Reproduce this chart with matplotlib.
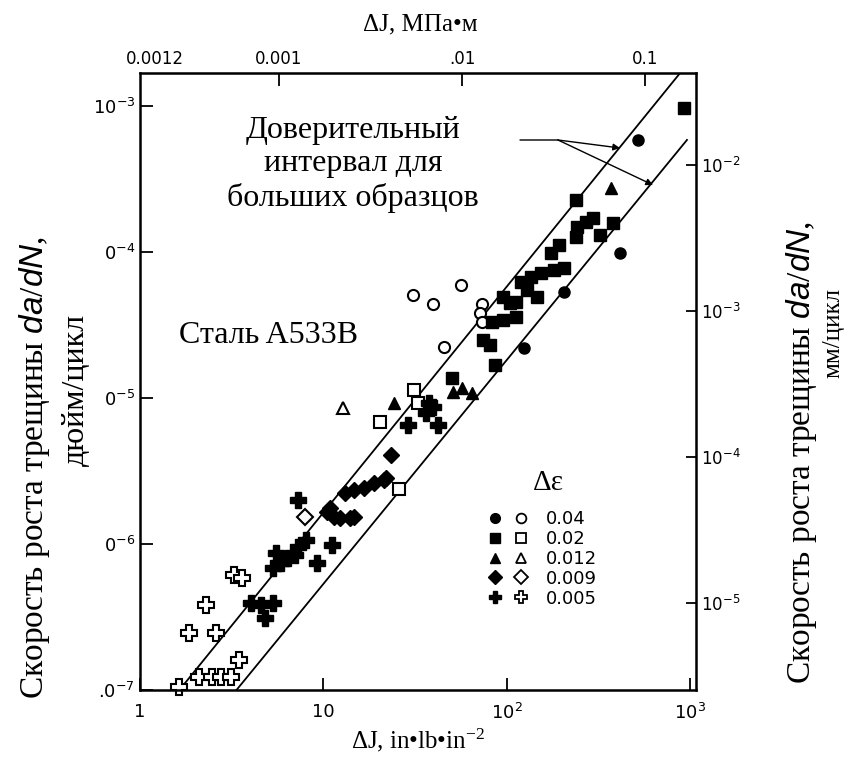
import matplotlib
matplotlib.use("Agg")
import matplotlib.pyplot as plt
from matplotlib.legend_handler import HandlerTuple
from matplotlib.lines import Line2D
from matplotlib.ticker import NullFormatter

plt.rcParams['font.family'] = ['Liberation Serif', 'DejaVu Serif']
plt.rcParams['mathtext.fontset'] = 'custom'
plt.rcParams['mathtext.it'] = 'Liberation Sans:italic'
plt.rcParams['mathtext.rm'] = 'Liberation Serif'
plt.rcParams['mathtext.default'] = 'regular'

# data: dJ (in-lb/in^2), da/dN (in/cycle)
filled_circle_x = [519, 415, 205, 125]
filled_circle_y = [5.85e-4, 9.8e-5, 5.3e-5, 2.2e-5]
open_circle_x = [30.9, 39.5, 56.6, 73, 71.6, 73, 45.3]
open_circle_y = [5.1e-5, 4.4e-5, 5.9e-5, 4.4e-5, 3.8e-5, 3.3e-5, 2.23e-5]
filled_square_x = [929, 238, 297, 272, 241, 238, 324, 381, 175, 193, 120, 136, 154, 181, 205,
                   130, 147, 95, 104, 113, 113, 95, 83, 74, 81, 86, 50.6]
filled_square_y = [9.7e-4, 2.27e-4, 1.71e-4, 1.6e-4, 1.48e-4, 1.27e-4, 1.31e-4, 1.58e-4, 9.8e-5,
                   1.12e-4, 6.2e-5, 6.7e-5, 7.2e-5, 7.5e-5, 7.8e-5, 5.5e-5, 4.9e-5, 4.9e-5,
                   4.5e-5, 4.55e-5, 3.6e-5, 3.4e-5, 3.3e-5, 2.5e-5, 2.3e-5, 1.68e-5, 1.37e-5]
open_square_x = [31.2, 32.8, 20.3, 25.9]
open_square_y = [1.13e-5, 9.2e-6, 6.9e-6, 2.38e-6]
filled_triangle_x = [372, 57, 65, 51, 24.4]
filled_triangle_y = [2.74e-4, 1.17e-5, 1.08e-5, 1.1e-5, 9.2e-6]
open_triangle_x = [12.8]
open_triangle_y = [8.5e-6]
filled_diamond_x = [23.5, 13.1, 14.7, 16.6, 18.8, 21.3, 22.1, 10.5, 11.5, 12.3, 14.0, 14.7, 10.9]
filled_diamond_y = [4.07e-6, 2.23e-6, 2.34e-6, 2.42e-6, 2.62e-6, 2.74e-6, 2.83e-6, 1.66e-6,
                    1.53e-6, 1.51e-6, 1.51e-6, 1.53e-6, 1.77e-6]
open_diamond_x = [7.9]
open_diamond_y = [1.53e-6]
filled_plus_x = [37.6, 36.3, 42, 29, 39.5, 7.25, 8.0, 7.25, 5.52, 6.4, 5.87, 5.32, 6.98, 9.29,
                 11.2, 4.05, 4.59, 5.32, 4.82]
filled_plus_y = [9.2e-6, 7.9e-6, 6.5e-6, 6.5e-6, 8.7e-6, 2.0e-6, 1.06e-6, 9.5e-7, 8.7e-7, 8.0e-7,
                 7.4e-7, 6.85e-7, 8.4e-7, 7.4e-7, 9.8e-7, 3.95e-7, 3.82e-7, 3.95e-7, 3.11e-7]
open_plus_x = [3.24, 3.58, 2.29, 1.86, 2.59, 3.45, 2.10, 2.47, 2.76, 3.12, 1.64]
open_plus_y = [6.1e-7, 5.85e-7, 3.82e-7, 2.45e-7, 2.45e-7, 1.6e-7, 1.23e-7, 1.23e-7, 1.23e-7,
               1.23e-7, 1.05e-7]

# scatter band for large specimens
upper_x = [1.64, 884.0]
upper_y = [1.0e-7, 1.68e-3]
lower_x = [3.36, 964.0]
lower_y = [1.0e-7, 5.85e-4]

legend_labels = ['0.04', '0.02', '0.012', '0.009', '0.005']

fig = plt.figure(figsize=(8.45, 7.6), dpi=100)
ax = fig.add_axes([0.1657, 0.0921, 0.658, 0.8118])
ax.set_xscale('log')
ax.set_yscale('log')
ax.set_xlim(1, 1080)
ax.set_ylim(1e-7, 1.68e-3)

ax.plot(upper_x, upper_y, color='black', lw=1.3)
ax.plot(lower_x, lower_y, color='black', lw=1.3)

ms = 8
kw_f = dict(ls='none', color='black', mec='black', ms=ms, clip_on=False)
kw_o = dict(ls='none', mfc='white', mec='black', mew=1.5, ms=ms, clip_on=False)
ax.plot(filled_circle_x, filled_circle_y, 'o', **kw_f)
ax.plot(open_circle_x, open_circle_y, 'o', **kw_o)
ax.plot(filled_square_x, filled_square_y, 's', **kw_f)
ax.plot(open_square_x, open_square_y, 's', **kw_o)
ax.plot(filled_triangle_x, filled_triangle_y, '^', **kw_f)
ax.plot(open_triangle_x, open_triangle_y, '^', **kw_o)
ax.plot(filled_diamond_x, filled_diamond_y, 'D', **kw_f)
ax.plot(open_diamond_x, open_diamond_y, 'D', **kw_o)
ax.plot(filled_plus_x, filled_plus_y, 'P', **dict(kw_f, ms=11))
ax.plot(open_plus_x, open_plus_y, 'P', **dict(kw_o, ms=11))

# legend: filled + open marker per strain range
handles = []
for m in ['o', 's', '^', 'D', 'P']:
    size = 8 if m == 'P' else 7
    f = Line2D([], [], marker=m, ls='none', color='black', ms=size)
    o = Line2D([], [], marker=m, ls='none', mfc='white', mec='black', mew=1.3, ms=size)
    handles.append((f, o))
leg = ax.legend(handles, legend_labels, handler_map={tuple: HandlerTuple(ndivide=None, pad=0.6)},
                loc='upper left', bbox_to_anchor=(0.613, 0.303), frameon=False,
                prop={'family': 'DejaVu Sans', 'size': 13}, handlelength=2.2,
                labelspacing=0.1, handletextpad=1.0, borderaxespad=0)
ax.text(0.735, 0.335, 'Δε', transform=ax.transAxes, ha='center', va='center', fontsize=21)

# ticks
for spine in ax.spines.values():
    spine.set_linewidth(1.8)
ax.tick_params(which='minor', length=0)
ax.tick_params(which='major', direction='in', length=9, width=1.3, labelsize=13)
ax.tick_params(axis='x', pad=9)
ax.set_xticks([1, 10, 100, 1000])
ax.set_xticklabels(['1', '10', '$10^2$', '$10^3$'], family='DejaVu Sans')
ax.set_yticks([1e-7, 1e-6, 1e-5, 1e-4, 1e-3])
ax.set_yticklabels(['.0$^{-7}$', '0$^{-6}$', '0$^{-5}$', '0$^{-4}$', '10$^{-3}$'],
                   family='DejaVu Sans')
ax.xaxis.set_minor_formatter(NullFormatter())
ax.yaxis.set_minor_formatter(NullFormatter())

secx = ax.secondary_xaxis('top', functions=(lambda x: x * 1.751e-4, lambda x: x / 1.751e-4))
secx.set_xticks([0.001, 0.01, 0.1])
secx.set_xticklabels(['0.001', '.01', '0.1'], family='DejaVu Sans')
secx.xaxis.set_minor_formatter(NullFormatter())
secx.tick_params(which='minor', length=0)
secx.tick_params(which='major', direction='in', length=9, width=1.3, labelsize=12)
ax.text(0.027, 1.008, '0.0012', transform=ax.transAxes, ha='center', va='bottom',
        family='DejaVu Sans', fontsize=12)

secy = ax.secondary_yaxis('right', functions=(lambda y: y * 25.4, lambda y: y / 25.4))
secy.set_yticks([1e-5, 1e-4, 1e-3, 1e-2])
secy.set_yticklabels(['10$^{-5}$', '10$^{-4}$', '10$^{-3}$', '10$^{-2}$'], family='DejaVu Sans')
secy.yaxis.set_minor_formatter(NullFormatter())
secy.tick_params(which='minor', length=0)
secy.tick_params(which='major', direction='in', length=7, width=1.3, labelsize=12)

# annotations
ax.text(0.383, 0.8525, 'Доверительный\nинтервал для\nбольших образцов', transform=ax.transAxes,
        ha='center', va='center', fontsize=23, linespacing=1.2)
arrow = dict(arrowstyle='-|>', color='black', lw=1.0, mutation_scale=10, shrinkA=0, shrinkB=0)
ax.annotate('', xy=(620, 612), xytext=(558, 620), xycoords='figure pixels', arrowprops=arrow)
ax.annotate('', xy=(653, 575), xytext=(558, 620), xycoords='figure pixels', arrowprops=arrow)
ax.annotate('', xy=(520, 620), xytext=(558, 620), xycoords='figure pixels',
            arrowprops=dict(arrowstyle='-', color='black', lw=1.0, shrinkA=0, shrinkB=0))
ax.text(0.07, 0.575, 'Сталь A533B', transform=ax.transAxes, ha='left', va='center',
        fontsize=23)

fig.text(0.041, 0.385, 'Скорость роста трещины $\\it{da/dN}$,', rotation=90, ha='center',
         va='center', fontsize=24)
fig.text(0.09, 0.487, 'дюйм/цикл', rotation=90, ha='center', va='center', fontsize=23)
fig.text(0.949, 0.405, 'Скорость роста трещины $\\it{da/dN}$,', rotation=90, ha='center',
         va='center', fontsize=24)
fig.text(0.986, 0.562, 'мм/цикл', rotation=90, ha='center', va='center', fontsize=18)
fig.text(0.497, 0.968, 'ΔJ, МПа•м', ha='center', va='center', fontsize=18)
fig.text(0.495, 0.026, 'ΔJ, in•lb•in$^{-2}$', ha='center', va='center', fontsize=18)

fig.savefig('out.png', dpi=100)
